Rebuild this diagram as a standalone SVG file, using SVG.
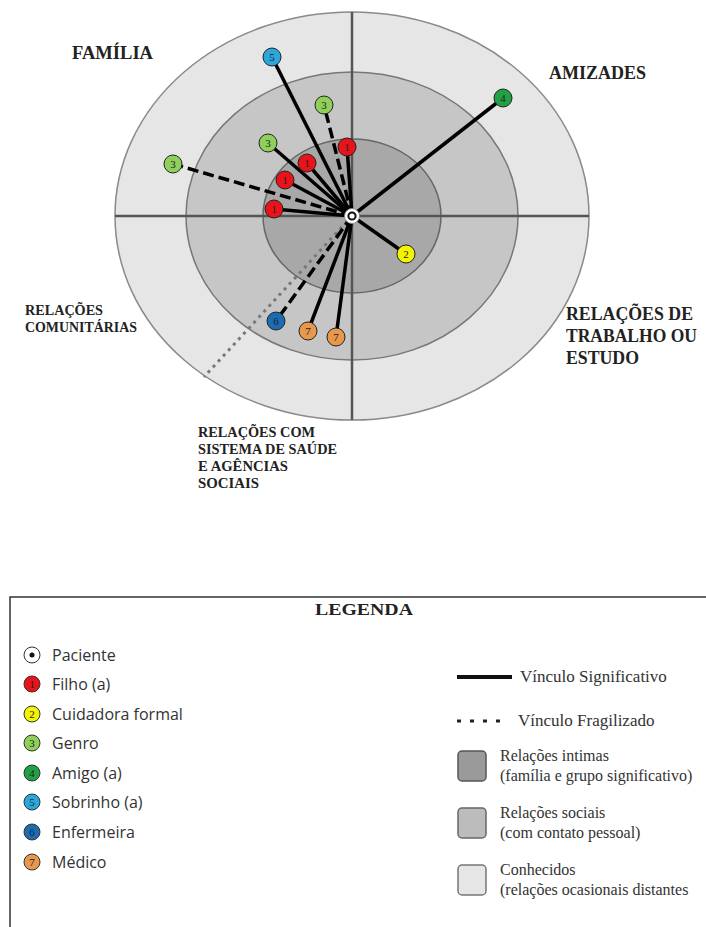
<svg xmlns="http://www.w3.org/2000/svg" width="706" height="927" viewBox="0 0 706 927">
<defs>
<style>
.lbl{font-family:"Liberation Serif","Times New Roman",serif;font-weight:bold;fill:#222}
.big{font-size:19px}
.mid{font-size:18px}
.sm{font-size:15px}
.num{font-family:"Liberation Serif","Times New Roman",serif;font-size:11px;fill:#222;text-anchor:middle}
.nd{stroke:#222;stroke-width:1}
.solid{stroke:#000;stroke-width:3.5;fill:none}
.dash{stroke:#000;stroke-width:3.5;stroke-dasharray:11 5;fill:none}
.dot{stroke:#777;stroke-width:3;stroke-dasharray:3 4.5;fill:none}
.axis{stroke:#555;stroke-width:2.5}
.leg{font-family:"Open Sans","DejaVu Sans",sans-serif;font-size:16px;fill:#333}
.legr{font-family:"Liberation Serif","Times New Roman",serif;font-size:17px;fill:#333}
.legs{font-family:"Liberation Serif","Times New Roman",serif;font-size:16px;fill:#333}
.ic{stroke:#333;stroke-width:1}
.box{stroke-width:1.5}
</style>
</defs>
<rect x="0" y="0" width="706" height="927" fill="#ffffff"/>

<g id="rings">
<ellipse cx="352" cy="216" rx="237" ry="204" fill="#e6e6e6" stroke="#8a8a8a" stroke-width="1.5"/>
<ellipse cx="352" cy="216" rx="166" ry="144" fill="#c6c6c6" stroke="#777" stroke-width="1.5"/>
<ellipse cx="352" cy="216" rx="89" ry="77" fill="#a8a8a8" stroke="#666" stroke-width="1.5"/>
<line class="axis" x1="115" y1="216" x2="589" y2="216"/>
<line class="axis" x1="352" y1="12" x2="352" y2="420"/>
</g>

<g id="sector-labels">
<text class="lbl big" x="72" y="59" textLength="81" lengthAdjust="spacingAndGlyphs">FAMÍLIA</text>
<text class="lbl big" x="549" y="79" textLength="97" lengthAdjust="spacingAndGlyphs">AMIZADES</text>
<text class="lbl mid" x="566" y="320" textLength="127" lengthAdjust="spacingAndGlyphs">RELAÇÕES DE</text>
<text class="lbl mid" x="566" y="342" textLength="131" lengthAdjust="spacingAndGlyphs">TRABALHO OU</text>
<text class="lbl mid" x="566" y="364" textLength="73" lengthAdjust="spacingAndGlyphs">ESTUDO</text>
<text class="lbl sm" x="25" y="315" textLength="78" lengthAdjust="spacingAndGlyphs">RELAÇÕES</text>
<text class="lbl sm" x="25" y="332" textLength="112" lengthAdjust="spacingAndGlyphs">COMUNITÁRIAS</text>
<text class="lbl sm" x="198" y="437" textLength="117" lengthAdjust="spacingAndGlyphs">RELAÇÕES COM</text>
<text class="lbl sm" x="198" y="454" textLength="139" lengthAdjust="spacingAndGlyphs">SISTEMA DE SAÚDE</text>
<text class="lbl sm" x="198" y="471" textLength="90" lengthAdjust="spacingAndGlyphs">E AGÊNCIAS</text>
<text class="lbl sm" x="198" y="488" textLength="61" lengthAdjust="spacingAndGlyphs">SOCIAIS</text>
</g>

<g id="connectors">
<line class="dot" x1="352" y1="216" x2="204" y2="377"/>
<line class="solid" x1="352" y1="216" x2="272" y2="57"/>
<line class="dash" x1="352" y1="216" x2="324" y2="105"/>
<line class="solid" x1="352" y1="216" x2="347" y2="147"/>
<line class="solid" x1="352" y1="216" x2="268" y2="143"/>
<line class="solid" x1="352" y1="216" x2="307" y2="163"/>
<line class="solid" x1="352" y1="216" x2="285" y2="180"/>
<line class="dash" x1="352" y1="216" x2="173" y2="164"/>
<line class="solid" x1="352" y1="216" x2="274" y2="209"/>
<line class="solid" x1="352" y1="216" x2="503" y2="98"/>
<line class="solid" x1="352" y1="216" x2="406" y2="254"/>
<line class="dash" x1="352" y1="216" x2="276" y2="321"/>
<line class="solid" x1="352" y1="216" x2="308" y2="331"/>
<line class="solid" x1="352" y1="216" x2="336" y2="337"/>
</g>

<g id="n5"><circle class="nd" cx="272" cy="57" r="9" fill="#2aa8dd"/><text class="num" x="272" y="61">5</text></g>
<g id="n3a"><circle class="nd" cx="324" cy="105" r="9" fill="#8fd05a"/><text class="num" x="324" y="109">3</text></g>
<g id="n1a"><circle class="nd" cx="347" cy="147" r="9" fill="#e8131b"/><text class="num" x="347" y="151">1</text></g>
<g id="n3b"><circle class="nd" cx="268" cy="143" r="9" fill="#8fd05a"/><text class="num" x="268" y="147">3</text></g>
<g id="n1b"><circle class="nd" cx="307" cy="163" r="9" fill="#e8131b"/><text class="num" x="307" y="167">1</text></g>
<g id="n1c"><circle class="nd" cx="285" cy="180" r="9" fill="#e8131b"/><text class="num" x="285" y="184">1</text></g>
<g id="n3c"><circle class="nd" cx="173" cy="164" r="9" fill="#8fd05a"/><text class="num" x="173" y="168">3</text></g>
<g id="n1d"><circle class="nd" cx="274" cy="209" r="9" fill="#e8131b"/><text class="num" x="274" y="213">1</text></g>
<g id="n4"><circle class="nd" cx="503" cy="98" r="9" fill="#22a045"/><text class="num" x="503" y="102">4</text></g>
<g id="n2"><circle class="nd" cx="406" cy="254" r="9" fill="#f4f400"/><text class="num" x="406" y="258">2</text></g>
<g id="n6"><circle class="nd" cx="276" cy="321" r="9" fill="#1b6cb3"/><text class="num" x="276" y="325">6</text></g>
<g id="n7a"><circle class="nd" cx="308" cy="331" r="9" fill="#e8984c"/><text class="num" x="308" y="335">7</text></g>
<g id="n7b"><circle class="nd" cx="336" cy="337" r="9" fill="#e8984c"/><text class="num" x="336" y="341">7</text></g>
<g id="patient"><circle cx="352" cy="216" r="7.5" fill="#ffffff" stroke="#888" stroke-width="0.8"/><circle cx="352" cy="216" r="3.6" fill="#ffffff" stroke="#111" stroke-width="2"/></g>

<g id="legend">
<path d="M10,927 V597 H706" fill="none" stroke="#333" stroke-width="1.5"/>
<text class="lbl" x="315" y="615" font-size="17" textLength="98" lengthAdjust="spacingAndGlyphs">LEGENDA</text>

<circle class="ic" cx="32" cy="655" r="8" fill="#ffffff"/><circle cx="32" cy="655" r="2.5" fill="#111"/>
<text class="leg" x="52" y="661">Paciente</text>
<circle class="ic" cx="32" cy="684" r="8" fill="#e8131b"/><text class="num" x="32" y="688" font-size="10">1</text>
<text class="leg" x="52" y="690">Filho (a)</text>
<circle class="ic" cx="32" cy="714" r="8" fill="#f4f400"/><text class="num" x="32" y="718" font-size="10">2</text>
<text class="leg" x="52" y="720">Cuidadora formal</text>
<circle class="ic" cx="32" cy="743" r="8" fill="#8fd05a"/><text class="num" x="32" y="747" font-size="10">3</text>
<text class="leg" x="52" y="749">Genro</text>
<circle class="ic" cx="32" cy="773" r="8" fill="#22a045"/><text class="num" x="32" y="777" font-size="10">4</text>
<text class="leg" x="52" y="779">Amigo (a)</text>
<circle class="ic" cx="32" cy="802" r="8" fill="#2aa8dd"/><text class="num" x="32" y="806" font-size="10">5</text>
<text class="leg" x="52" y="808">Sobrinho (a)</text>
<circle class="ic" cx="32" cy="832" r="8" fill="#1b6cb3"/><text class="num" x="32" y="836" font-size="10">6</text>
<text class="leg" x="52" y="838">Enfermeira</text>
<circle class="ic" cx="32" cy="862" r="8" fill="#e8984c"/><text class="num" x="32" y="866" font-size="10">7</text>
<text class="leg" x="52" y="868">Médico</text>

<line x1="457" y1="677" x2="512" y2="677" stroke="#111" stroke-width="4"/>
<text class="legr" x="520" y="682">Vínculo Significativo</text>
<line x1="457" y1="721" x2="500" y2="721" stroke="#222" stroke-width="3" stroke-dasharray="4 9"/>
<text class="legr" x="518" y="726">Vínculo Fragilizado</text>

<rect class="box" x="458" y="751" width="28" height="30" rx="4" fill="#9a9a9a" stroke="#555"/>
<text class="legs" x="500" y="761">Relações intimas</text>
<text class="legs" x="500" y="781">(família e grupo significativo)</text>
<rect class="box" x="458" y="808" width="28" height="30" rx="4" fill="#bcbcbc" stroke="#666"/>
<text class="legs" x="500" y="818">Relações sociais</text>
<text class="legs" x="500" y="838">(com contato pessoal)</text>
<rect class="box" x="458" y="865" width="28" height="30" rx="4" fill="#e6e6e6" stroke="#777"/>
<text class="legs" x="500" y="875">Conhecidos</text>
<text class="legs" x="500" y="895">(relações ocasionais distantes</text>
</g>
</svg>
